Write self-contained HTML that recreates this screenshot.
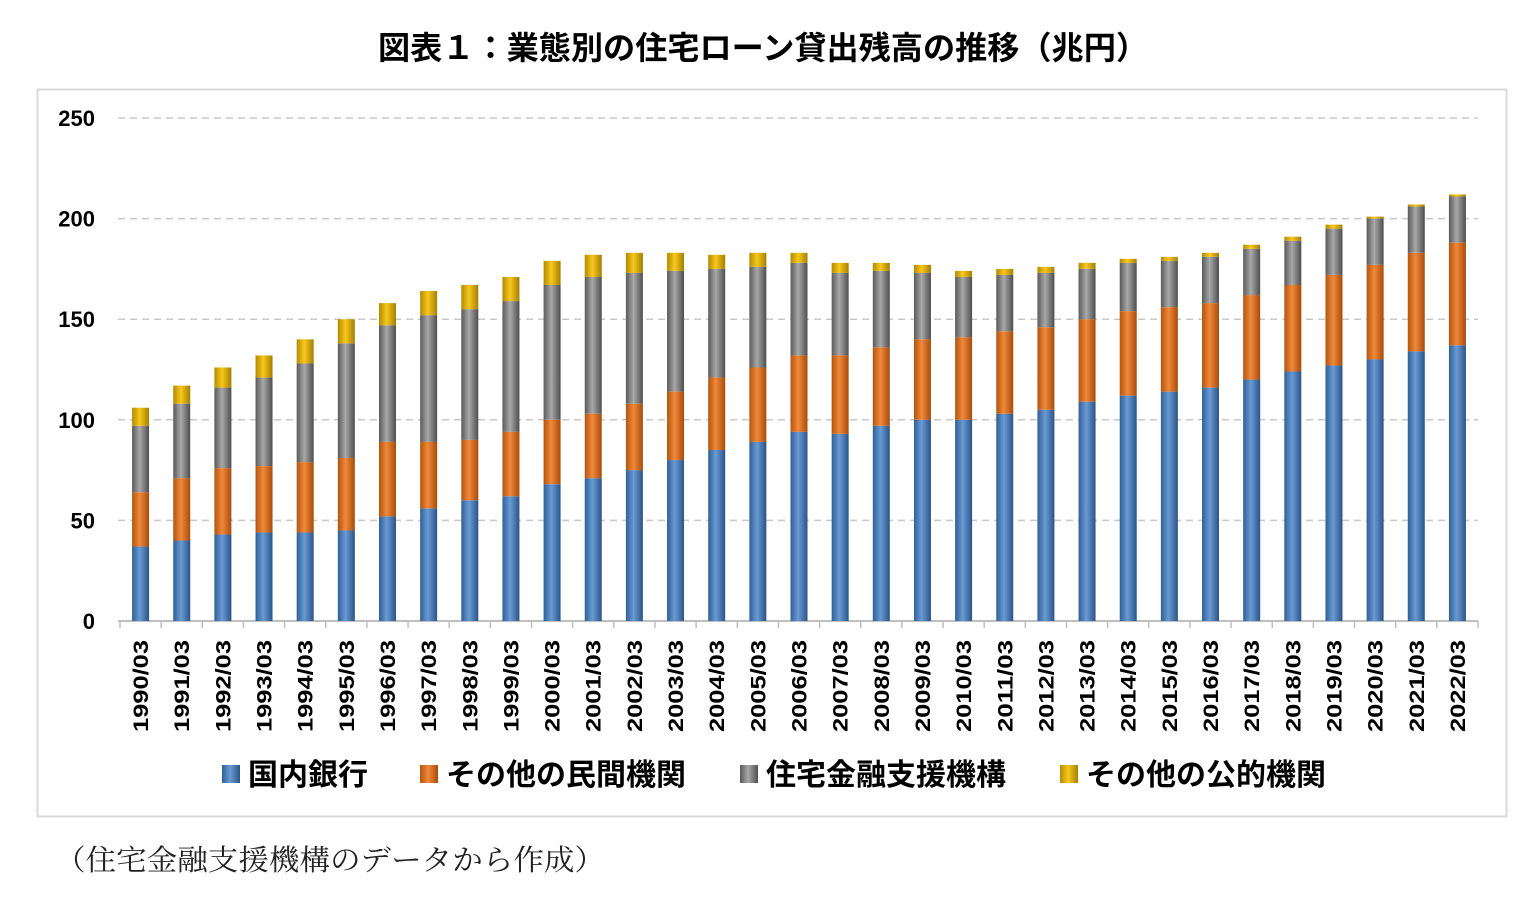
<!DOCTYPE html>
<html><head><meta charset="utf-8">
<style>
html,body{margin:0;padding:0;background:#fff;}
body{width:1540px;height:908px;position:relative;overflow:hidden;font-family:"Liberation Sans","Noto Sans CJK JP",sans-serif;}
</style></head>
<body>
<svg id="s" width="1540" height="908" xmlns="http://www.w3.org/2000/svg" style="position:absolute;left:0;top:0">
<defs>
<linearGradient id="gB" x1="0" x2="1" y1="0" y2="0"><stop offset="0" stop-color="#2f5f95"/><stop offset="0.45" stop-color="#6a9ad4"/><stop offset="1" stop-color="#2a5487"/></linearGradient>
<linearGradient id="gO" x1="0" x2="1" y1="0" y2="0"><stop offset="0" stop-color="#b3540f"/><stop offset="0.45" stop-color="#f0893a"/><stop offset="1" stop-color="#a84b0a"/></linearGradient>
<linearGradient id="gG" x1="0" x2="1" y1="0" y2="0"><stop offset="0" stop-color="#5a5a5a"/><stop offset="0.45" stop-color="#a8a8a8"/><stop offset="1" stop-color="#4e4e4e"/></linearGradient>
<linearGradient id="gY" x1="0" x2="1" y1="0" y2="0"><stop offset="0" stop-color="#b38a00"/><stop offset="0.45" stop-color="#f7c81c"/><stop offset="1" stop-color="#a57f00"/></linearGradient>
</defs>
<text x="378" y="59" textLength="770" lengthAdjust="spacingAndGlyphs" font-size="32" font-weight="bold" fill="#000">図表１：業態別の住宅ローン貸出残高の推移（兆円）</text>
<rect x="37.5" y="89.5" width="1469" height="727" fill="none" stroke="#d9d9d9" stroke-width="2"/>
<g id="g"></g>
<text x="55" y="870" font-size="29" textLength="550" lengthAdjust="spacingAndGlyphs" fill="#222" font-family="'Liberation Serif','Noto Serif CJK SC',serif">（住宅金融支援機構のデータから作成）</text>
</svg>
<script>
var d=[[37,64,97,106],[40,71,108,117],[43,76,116,126],[44,77,121,132],[44,79,128,140],[45,81,138,150],[52,89,147,158],[56,89,152,164],[60,90,155,167],[62,94,159,171],[68,100,167,179],[71,103,171,182],[75,108,173,183],[80,114,174,183],[85,121,175,182],[89,126,176,183],[94,132,178,183],[93,132,173,178],[97,136,174,178],[100,140,173,177],[100,141,171,174],[103,144,172,175],[105,146,173,176],[109,150,175,178],[112,154,178,180],[114,156,179,181],[116,158,181,183],[120,162,185,187],[124,167,189,191],[127,172,195,197],[130,177,200,201],[134,183,206,207],[137,188,211,212]];
var h='',y0=621,k=2.012,x0=120,x1=1478,st=(x1-x0)/33;
for(var v=50;v<=250;v+=50){var y=y0-v*k;h+='<line x1="118" x2="1478" y1="'+y+'" y2="'+y+'" stroke="#c8c8c8" stroke-width="1.5" stroke-dasharray="7,5"/>';}
for(var v=0;v<=250;v+=50){h+='<text x="95" y="'+(y0-v*k+8)+'" text-anchor="end" font-size="22" font-weight="bold">'+v+'</text>';}
h+='<line x1="118" x2="1478" y1="'+y0+'" y2="'+y0+'" stroke="#bfbfbf" stroke-width="2"/>';
var g=['url(#gB)','url(#gO)','url(#gG)','url(#gY)'];
for(var i=0;i<33;i++){var tx=x0+i*st;h+='<line x1="'+tx+'" x2="'+tx+'" y1="'+y0+'" y2="628" stroke="#bfbfbf" stroke-width="1.5"/>';
var c=tx+st/2,w=17,p=0;for(var j=0;j<4;j++){var a=d[i][j];h+='<rect x="'+(c-w/2)+'" y="'+(y0-a*k)+'" width="'+w+'" height="'+((a-p)*k)+'" fill="'+g[j]+'"/>';p=a;}
h+='<text transform="translate('+(c+7.5)+',732) rotate(-90)" font-size="21" font-weight="bold" textLength="92" lengthAdjust="spacingAndGlyphs">'+(1990+i)+'/03</text>';}
h+='<line x1="'+(x0+33*st)+'" x2="'+(x0+33*st)+'" y1="'+y0+'" y2="628" stroke="#bfbfbf" stroke-width="1.5"/>';
var L=[[222,'国内銀行'],[420,'その他の民間機関'],[740,'住宅金融支援機構'],[1060,'その他の公的機関']];
for(var j=0;j<4;j++){h+='<rect x="'+L[j][0]+'" y="765" width="18" height="18" fill="'+g[j]+'"/><text x="'+(L[j][0]+26)+'" y="785" font-size="30" font-weight="bold">'+L[j][1]+'</text>';}
document.getElementById('g').innerHTML=h;
</script>
</body></html>
